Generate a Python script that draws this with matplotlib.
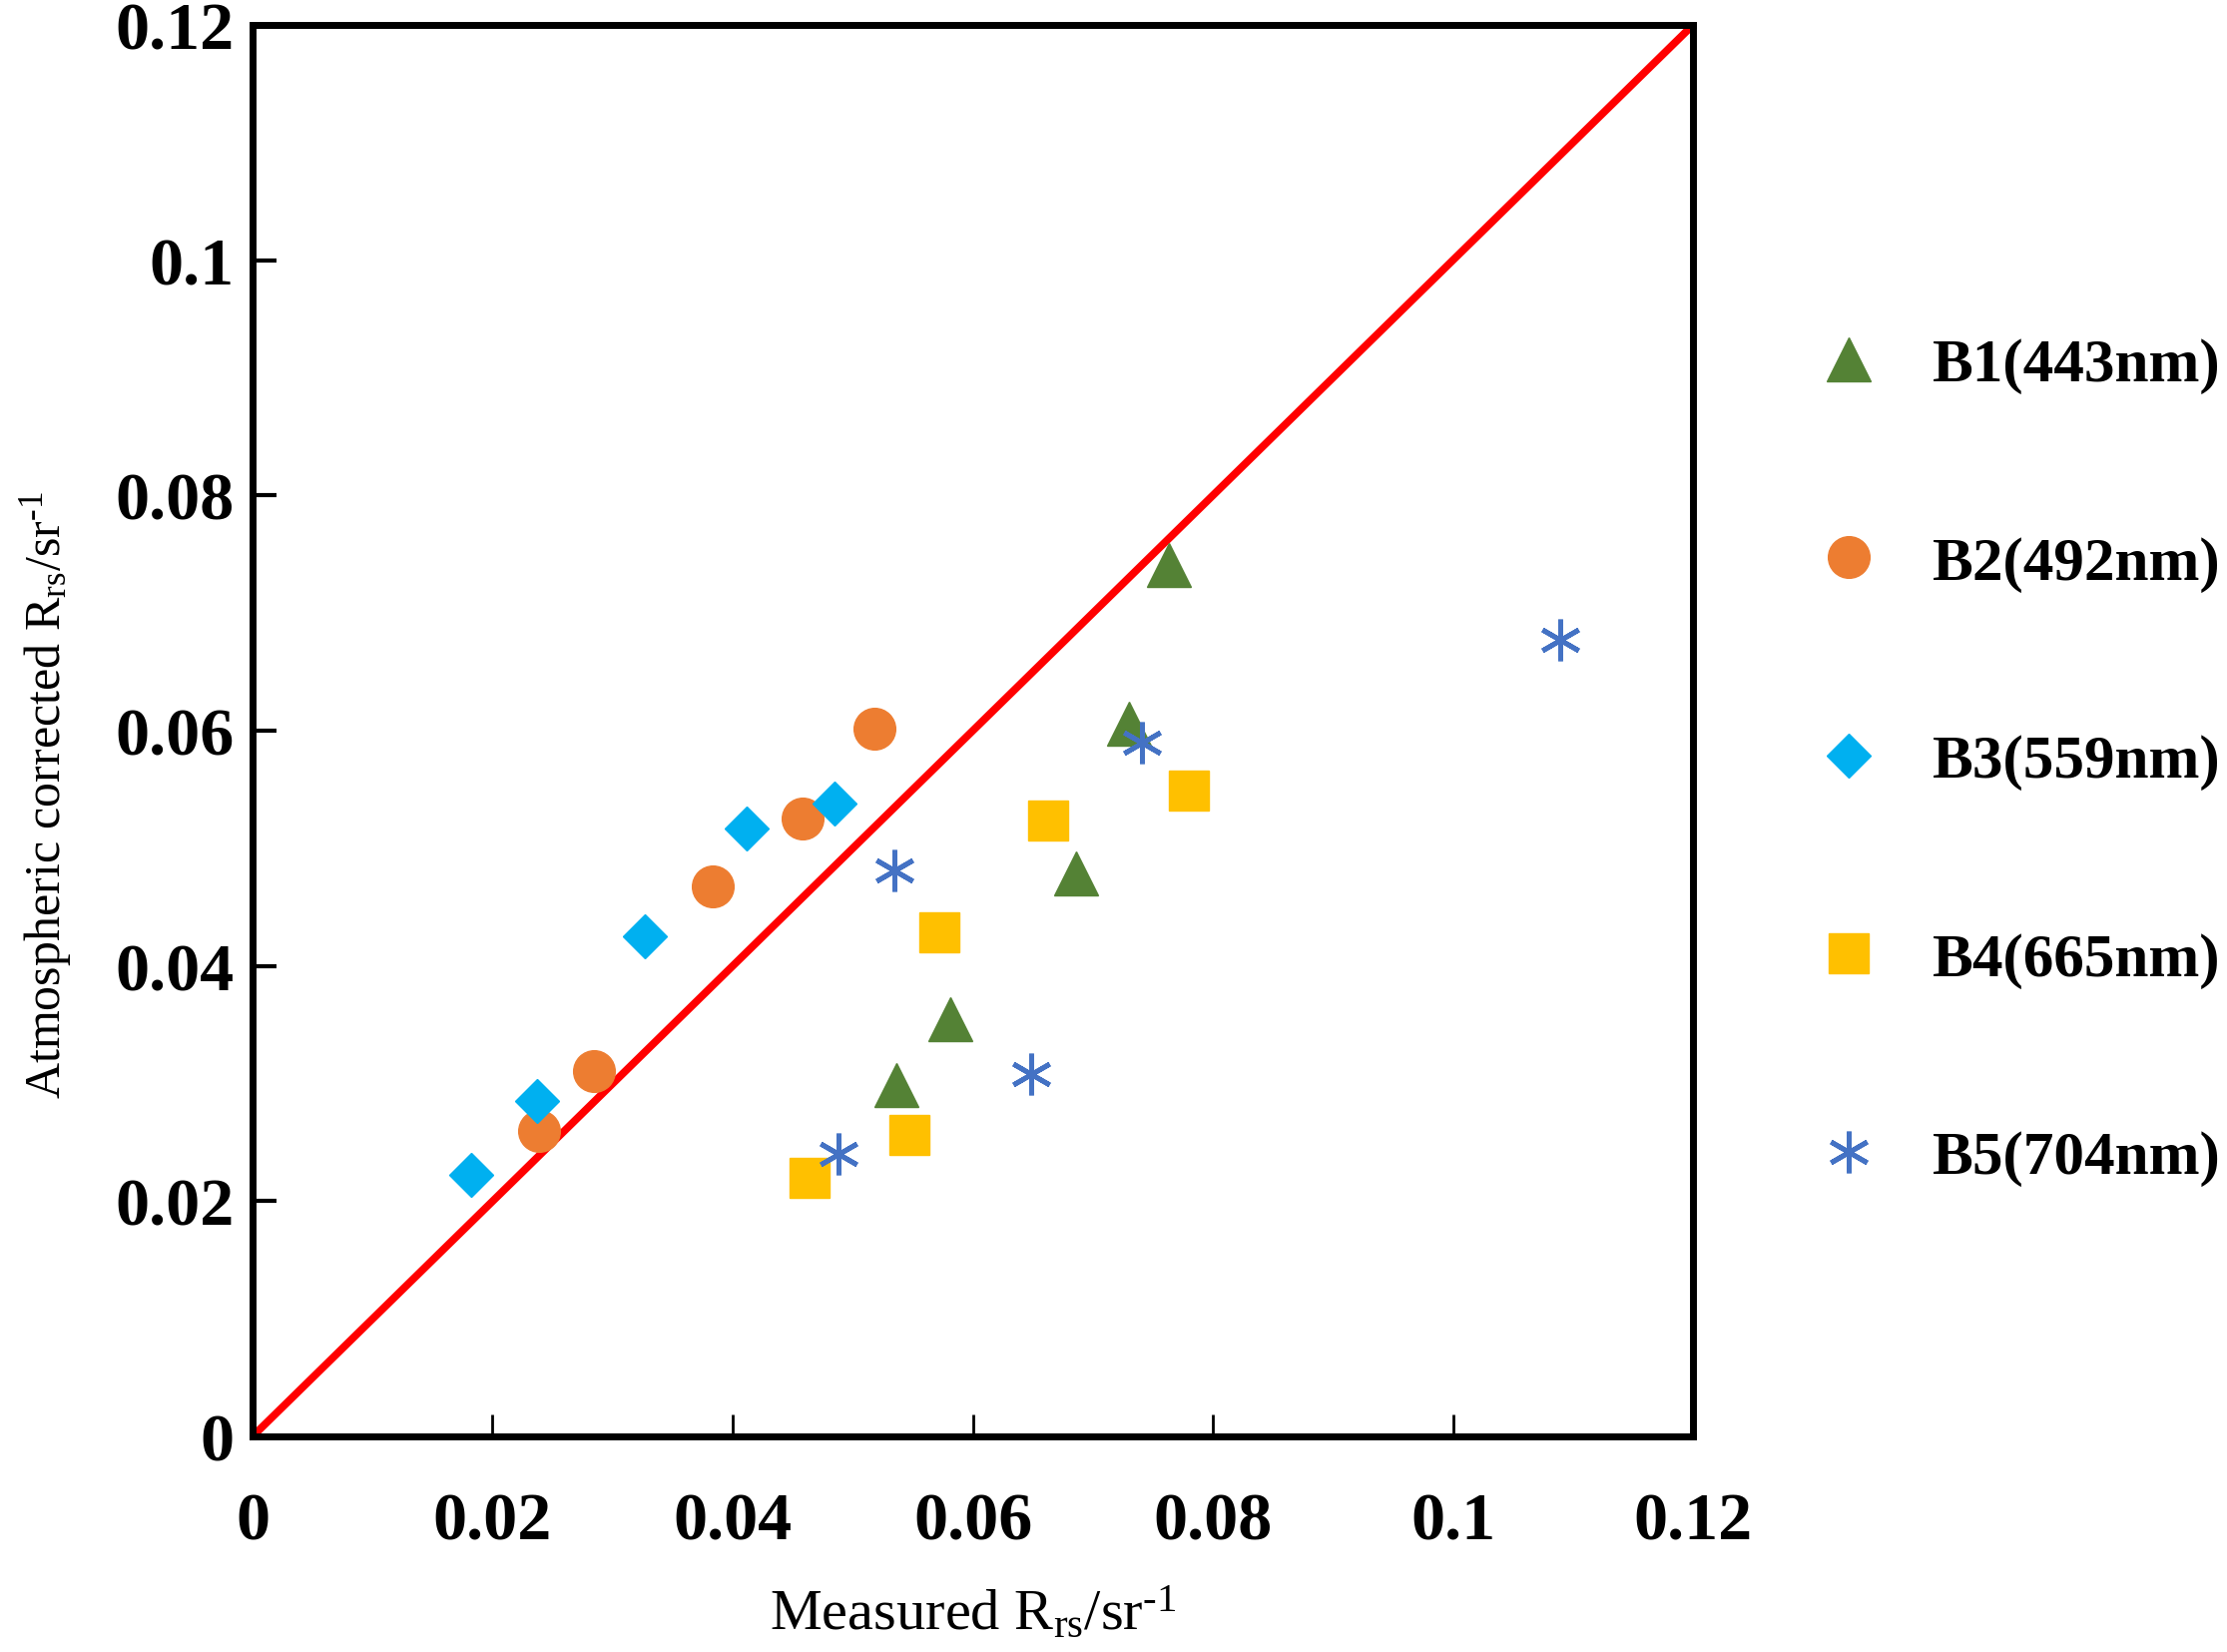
import matplotlib
matplotlib.use("Agg")
import matplotlib.pyplot as plt

plt.rcParams["font.family"] = ["Liberation Serif", "DejaVu Serif"]
plt.rcParams["mathtext.fontset"] = "custom"
plt.rcParams["mathtext.rm"] = "Liberation Serif"
plt.rcParams["mathtext.it"] = "Liberation Serif:italic"

# measured (x) vs atmospheric corrected (y) Rrs
b1_x = [0.0763, 0.0730, 0.0686, 0.0581, 0.0536]
b1_y = [0.0741, 0.0606, 0.0479, 0.0355, 0.0299]
b2_x = [0.0518, 0.0458, 0.0383, 0.0284, 0.0239]
b2_y = [0.0602, 0.0525, 0.0468, 0.0311, 0.0260]
b3_x = [0.0182, 0.0237, 0.0327, 0.0412, 0.0485]
b3_y = [0.0222, 0.0285, 0.0425, 0.0517, 0.0538]
b4_x = [0.0464, 0.0547, 0.0572, 0.0663, 0.0780]
b4_y = [0.0220, 0.0256, 0.0429, 0.0524, 0.0549]
b5_x = [0.0488, 0.0535, 0.0649, 0.0741, 0.1089]
b5_y = [0.0240, 0.0481, 0.0308, 0.0590, 0.0677]

labels = ["B1(443nm)", "B2(492nm)", "B3(559nm)", "B4(665nm)", "B5(704nm)"]
ticks = [0, 0.02, 0.04, 0.06, 0.08, 0.1, 0.12]
tick_labels = ["0", "0.02", "0.04", "0.06", "0.08", "0.1", "0.12"]

fig = plt.figure(figsize=(22.31, 16.56), dpi=100)
ax = fig.add_axes([0.1134, 0.1304, 0.6468, 0.8539])

ax.plot([0, 0.12], [0, 0.12], color="red", lw=5.5, zorder=1)

ax.plot(b1_x, b1_y, ls="none", marker="^", ms=31, color="#548235", label=labels[0])
ax.plot(b2_x, b2_y, ls="none", marker="o", ms=30, color="#ED7D31", label=labels[1])
ax.plot(b3_x, b3_y, ls="none", marker="D", ms=22, color="#00B0F0", label=labels[2])
ax.plot(b4_x, b4_y, ls="none", marker="s", ms=29, color="#FFC000", label=labels[3])
ax.plot(b5_x, b5_y, ls="none", marker=(6, 2, 0), ms=30, mew=3.5,
        color="#4472C4", label=labels[4])

ax.set_xlim(0, 0.12)
ax.set_ylim(0, 0.12)
ax.set_xticks(ticks)
ax.set_yticks(ticks)
ax.set_xticklabels(tick_labels, fontsize=49, fontweight="bold")
ax.set_yticklabels(tick_labels, fontsize=49, fontweight="bold")
ax.tick_params(axis="x", direction="in", length=16, width=2, pad=40)
ax.tick_params(axis="y", direction="in", length=17, width=3, pad=13)

for s in ax.spines.values():
    s.set_linewidth(5)

ax.set_xlabel("Measured R$_{\\rm rs}$/sr$^{\\rm \u20101}$", fontsize=42)
ax.set_ylabel("Atmospheric corrected R$_{\\rm rs}$/sr$^{\\rm \u20101}$", fontsize=36)
ax.xaxis.set_label_coords(0.5, -0.105)
ax.yaxis.set_label_coords(-0.124, 0.455)

ax.legend(loc="center left", bbox_to_anchor=(1.087, 0.478), frameon=False,
          prop={"weight": "bold", "size": 44}, handlelength=1.0,
          handletextpad=0.87, labelspacing=2.33, borderpad=0, borderaxespad=0,
          numpoints=1)

fig.savefig("out.png", dpi=100)
